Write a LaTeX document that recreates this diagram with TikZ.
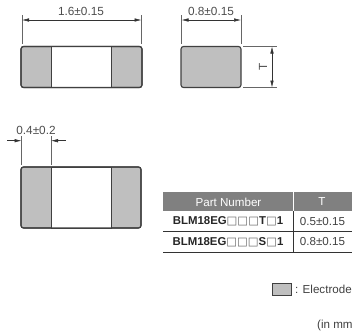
\documentclass[tikz,border=0pt]{standalone}
\usepackage{fontspec}
\setmainfont{Liberation Sans}
\newfontfamily\sqfont{DejaVu Sans}
\usetikzlibrary{arrows.meta,calc}
\tikzset{>={Latex[length=7pt,width=3.5pt]}}
\definecolor{electrode}{gray}{0.75}
\definecolor{outline}{gray}{0.25}
\definecolor{header}{gray}{0.5}
\tikzstyle{chip}=[rectangle,draw=outline,fill=electrode,line width=1.1pt,rounded corners=2.5pt,inner sep=0pt]
\tikzstyle{body}=[rectangle,draw=outline,fill=white,line width=1pt,inner sep=0pt,minimum width=60pt]
\tikzstyle{ext}=[draw=black!60,line width=0.5pt]
\tikzstyle{dim}=[draw=black!80,line width=0.5pt]
\tikzstyle{label}=[inner sep=0pt,text=black!70,font=\fontsize{11.8}{13}\selectfont]
\tikzstyle{cell}=[inner sep=0pt,text=black!75,font=\fontsize{11.6}{13}\selectfont]
\tikzstyle{part}=[inner sep=0pt,text=black!85,font=\fontsize{11.4}{13}\selectfont\bfseries]
\tikzstyle{rowline}=[draw=black!80,line width=0.8pt]
\begin{document}
\begin{tikzpicture}[x=1pt,y=-1pt]
	\def \sq {{\sqfont\mdseries\color{black!60}□}}
	\useasboundingbox (0,0) rectangle (354,335);

	% chips
	\node[chip,minimum width=121pt,minimum height=41pt] (chipa) at (81.5,67) {};
	\node[body,minimum height=41pt] (bodya) at (81,67) {};
	\node[chip,fill=none,minimum width=121pt,minimum height=41pt] (framea) at (81.5,67) {};
	\node[chip,minimum width=60pt,minimum height=41pt] (chipb) at (211,67) {};
	\node[chip,minimum width=120pt,minimum height=61pt] (chipc) at (81,197.5) {};
	\node[body,minimum height=61pt] (bodyc) at (81,197.5) {};
	\node[chip,fill=none,minimum width=120pt,minimum height=61pt] (framec) at (81,197.5) {};

	% dimension of the long side
	\node[label] (lenlabel) at (81,11) {1.6±0.15};
	\coordinate (lena) at (22,15);
	\coordinate (lenb) at (22,44);
	\coordinate (lenc) at (141.5,15);
	\coordinate (lend) at (141.5,44);
	\coordinate (lene) at (22,20);
	\coordinate (lenf) at (141.5,20);
	\draw[ext] (lena) -- (lenb);
	\draw[ext] (lenc) -- (lend);
	\draw[dim,<->] (lene) -- (lenf);

	% dimension of the short side
	\node[label] (widlabel) at (211,11) {0.8±0.15};
	\coordinate (wida) at (181.5,15);
	\coordinate (widb) at (181.5,44);
	\coordinate (widc) at (241,15);
	\coordinate (widd) at (241,44);
	\coordinate (wide) at (181.5,20);
	\coordinate (widf) at (241,20);
	\draw[ext] (wida) -- (widb);
	\draw[ext] (widc) -- (widd);
	\draw[dim,<->] (wide) -- (widf);

	% thickness
	\node[label,rotate=90] (tlabel) at (263,67) {T};
	\coordinate (ta) at (243,46.5);
	\coordinate (tb) at (277,46.5);
	\coordinate (tc) at (243,87.5);
	\coordinate (td) at (277,87.5);
	\coordinate (te) at (272,46.5);
	\coordinate (tf) at (272,87.5);
	\draw[ext] (ta) -- (tb);
	\draw[ext] (tc) -- (td);
	\draw[dim,<->] (te) -- (tf);

	% electrode width
	\node[label] (elabel) at (36,130) {0.4±0.2};
	\coordinate (ea) at (21.5,136);
	\coordinate (eb) at (21.5,165);
	\coordinate (ec) at (51,136);
	\coordinate (ed) at (51,165);
	\coordinate (ee) at (7,140.7);
	\coordinate (ef) at (21.5,140.7);
	\coordinate (eg) at (65.5,140.7);
	\coordinate (eh) at (51,140.7);
	\draw[ext] (ea) -- (eb);
	\draw[ext] (ec) -- (ed);
	\draw[dim,->] (ee) -- (ef);
	\draw[dim,->] (eg) -- (eh);

	% table
	\node[rectangle,fill=header,inner sep=0pt,minimum width=130pt,minimum height=19pt] (headpart) at (228,201.5) {};
	\node[rectangle,fill=header,inner sep=0pt,minimum width=58.5pt,minimum height=19pt] (headt) at (323,201.5) {};
	\node[cell,text=white] (parttext) at (228.5,202) {Part Number};
	\node[cell,text=white] (ttext) at (322,202) {T};
	\node[part] (parta) at (228,221.5) {BLM18EG\sq\sq\sq T\sq 1};
	\node[part] (partb) at (228,242) {BLM18EG\sq\sq\sq S\sq 1};
	\node[cell] (valuea) at (322.5,221.5) {0.5±0.15};
	\node[cell] (valueb) at (322.5,242) {0.8±0.15};
	\coordinate (rowa) at (163,231);
	\coordinate (rowb) at (352,231);
	\coordinate (rowc) at (163,252);
	\coordinate (rowd) at (352,252);
	\coordinate (cola) at (293,211);
	\coordinate (colb) at (293,252);
	\draw[rowline] (rowa) -- (rowb);
	\draw[rowline] (rowc) -- (rowd);
	\draw[rowline] (cola) -- (colb);

	% legend
	\node[chip,rounded corners=0pt,minimum width=19pt,minimum height=12pt] (legend) at (282.3,289.5) {};
	\node[cell,anchor=west] (legendtext) at (295,289.5) {: Electrode};
	\node[cell,anchor=west] (unit) at (317,325) {(in mm};
\end{tikzpicture}
\end{document}
